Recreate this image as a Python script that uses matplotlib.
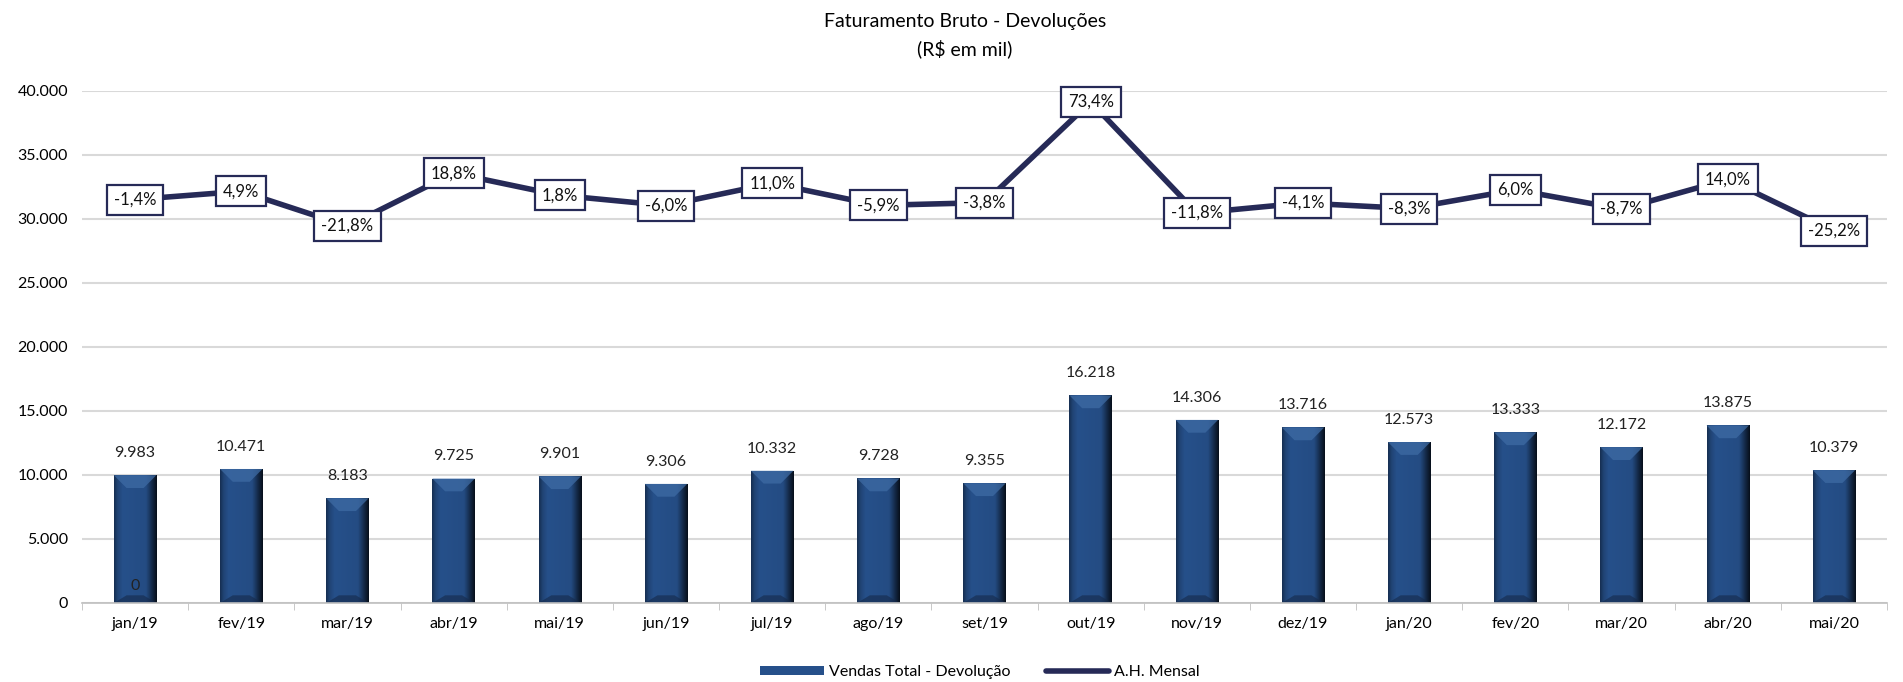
import matplotlib
matplotlib.use("Agg")
import matplotlib.pyplot as plt
from matplotlib.patches import Polygon
import numpy as np

plt.rcParams['font.family'] = ['Lato', 'DejaVu Sans']

# data
meses = ["jan/19", "fev/19", "mar/19", "abr/19", "mai/19", "jun/19", "jul/19", "ago/19", "set/19",
         "out/19", "nov/19", "dez/19", "jan/20", "fev/20", "mar/20", "abr/20", "mai/20"]
vendas = [9983, 10471, 8183, 9725, 9901, 9306, 10332, 9728, 9355,
          16218, 14306, 13716, 12573, 13333, 12172, 13875, 10379]
ah_mensal = [-1.4, 4.9, -21.8, 18.8, 1.8, -6.0, 11.0, -5.9, -3.8,
             73.4, -11.8, -4.1, -8.3, 6.0, -8.7, 14.0, -25.2]

navy = "#262a57"
barcol = "#26508a"

def fmt_mil(v):
    return f"{v:,.0f}".replace(",", ".")

fig = plt.figure(figsize=(19.03, 6.82), dpi=100)
ax = fig.add_axes([82/1903, 1-603/682, 1805/1903, 512/682])
x = np.arange(len(meses))
w = 0.40

bars = ax.bar(x, vendas, width=w, color=barcol, zorder=2, label="Vendas Total - Devolução")

# bevel look on the bars
grad = np.linspace(0, 1, 50)
prof = np.interp(grad, [0, 0.08, 0.2, 0.75, 0.9, 1.0], [0.6, 0.85, 1.0, 0.95, 0.5, 0.2])
base = np.array(matplotlib.colors.to_rgb(barcol))
img = np.clip(base[None, :] * prof[:, None], 0, 1)[None, :, :]
bx = 0.12
by = 1000
for b, xi, v in zip(bars, x, vendas):
    x0, x1 = xi - w/2, xi + w/2
    im = ax.imshow(img, extent=[x0, x1, 0, v], aspect='auto', zorder=2.1, interpolation='bilinear')
    im.set_clip_path(b)
    ax.add_patch(Polygon([[x0, v], [x1, v], [x1 - bx, v - by], [x0 + bx, v - by]],
                         closed=True, facecolor="#3e6ba4", edgecolor='none', alpha=0.75, zorder=2.2))
    ax.add_patch(Polygon([[x0, 0], [x1, 0], [x1 - bx, by*0.6], [x0 + bx, by*0.6]],
                         closed=True, facecolor="#15294a", edgecolor='none', alpha=0.6, zorder=2.2))
    ax.annotate(fmt_mil(v), (xi, v), xytext=(0, 16), textcoords="offset points",
                ha="center", va="center", fontsize=11.5, color="#222222")

ax.text(0, 1300, "0", ha="center", va="center", fontsize=11.5, color="#222222", zorder=3)

ax.set_ylim(0, 40000)
ax.set_xlim(-0.5, len(meses) - 0.5)
ax.set_yticks(np.arange(0, 40001, 5000))
ax.set_yticklabels([fmt_mil(v) for v in np.arange(0, 40001, 5000)], fontsize=11.5)
ax.set_xticks(x)
ax.set_xticklabels(meses, fontsize=11.5)
ax.set_xticks(np.arange(-0.5, len(meses), 1), minor=True)
ax.tick_params(axis='x', which='major', length=0, pad=10)
ax.tick_params(axis='x', which='minor', length=5, color="#bfbfbf")
ax.tick_params(axis='y', length=0, pad=10)
ax.grid(axis='y', color="#d9d9d9", linewidth=1.5, zorder=0)
ax.set_axisbelow(True)
for s in ["top", "right", "left"]:
    ax.spines[s].set_visible(False)
ax.spines["bottom"].set_color("#bfbfbf")
ax.spines["bottom"].set_linewidth(1.2)

# secondary axis for the line (hidden)
ax2 = ax.twinx()
ax2.plot(x, ah_mensal, color=navy, linewidth=4, zorder=3, label="A.H. Mensal", solid_capstyle='round')
ax2.set_ylim(-310.8, 81.8)
ax2.axis('off')
for xi, p in zip(x, ah_mensal):
    ax2.text(xi, p, f"{p:.1f}%".replace(".", ","), ha="center", va="center", fontsize=12,
             color="#111111", zorder=4,
             bbox=dict(boxstyle="square,pad=0.42", facecolor="white", edgecolor=navy, linewidth=1.6))

fig.text(0.507, 1-22/682, "Faturamento Bruto - Devoluções", ha="center", va="center", fontsize=14)
fig.text(0.507, 1-49/682, "(R$ em mil)", ha="center", va="center", fontsize=14)

h1, l1 = ax.get_legend_handles_labels()
h2, l2 = ax2.get_legend_handles_labels()
fig.legend(h1 + h2, l1 + l2, loc="center", bbox_to_anchor=(0.515, 1-672/682), ncol=2, frameon=False,
           fontsize=11.5, handlelength=4, handleheight=0.5, columnspacing=2.2, handletextpad=0.3)

fig.savefig("out.png", dpi=100)
